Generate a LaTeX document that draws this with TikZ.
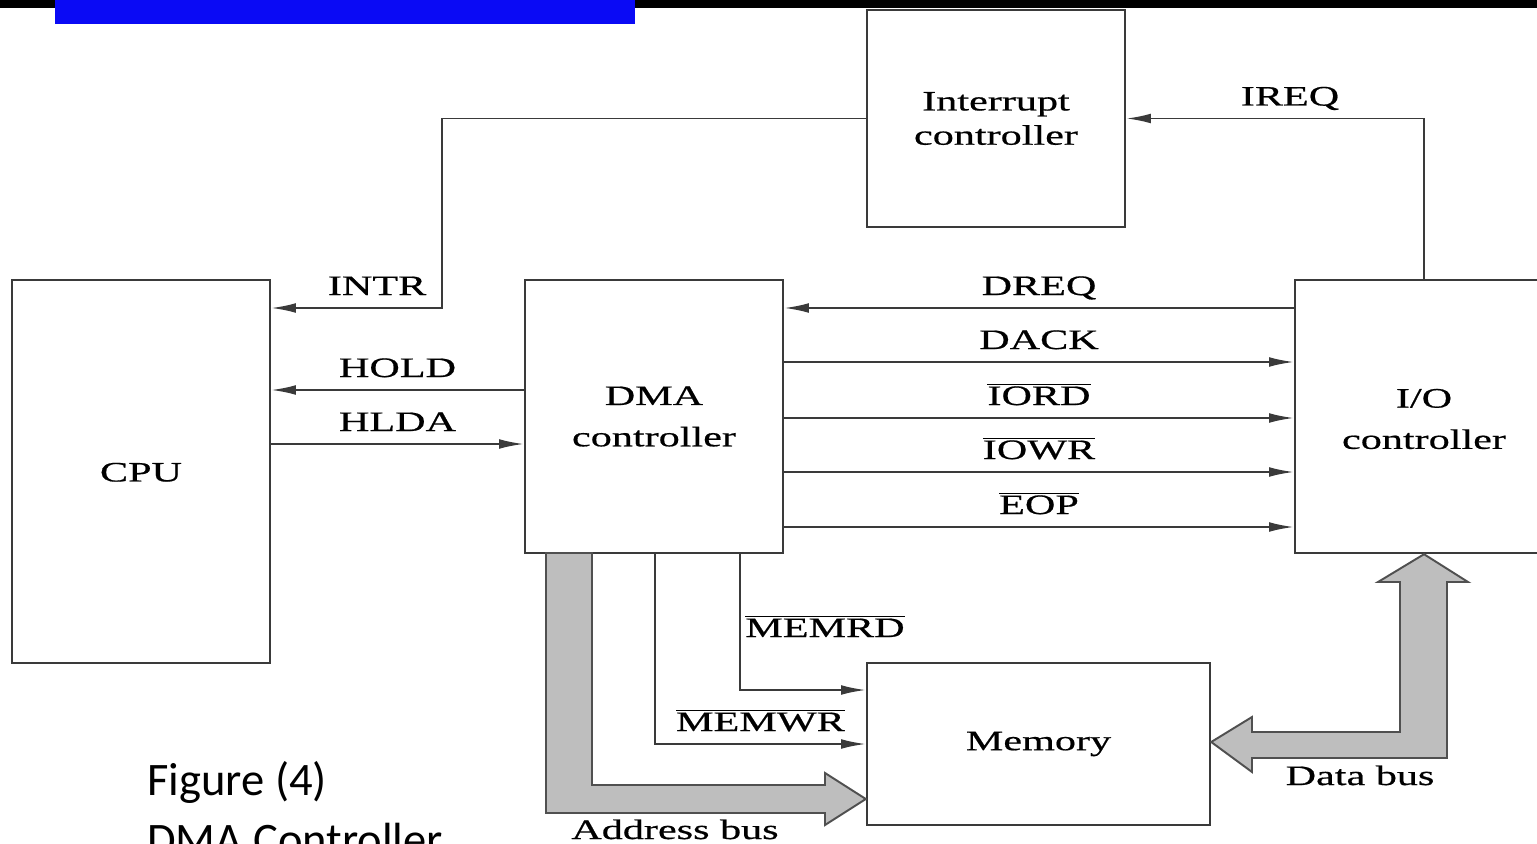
\documentclass[tikz,border=0pt]{standalone}
\usepackage{fontspec}
\usetikzlibrary{arrows.meta,calc}
\newfontfamily\figfont[FakeStretch=1.5,FakeBold=0.6]{Liberation Serif}
\newfontfamily\capfont{Carlito}
\definecolor{Wire}{HTML}{3A3A3A}
\definecolor{BusFill}{HTML}{BEBEBE}
\definecolor{BusEdge}{HTML}{505050}
\definecolor{TitleBlue}{HTML}{0A0AF5}
\newcommand{\ovl}[1]{$\overline{\mbox{#1}}$}
\tikzset{blockbox/.style={rectangle,draw=Wire,line width=1.4pt,fill=white,minimum width=5.16cm,align=center,inner sep=0pt,font=\figfont\fontsize{16}{19.5}\selectfont},sig/.style={draw=Wire,line width=1.1pt,-{Latex[length=14pt,width=5.5pt]}},sigtag/.style={inner sep=0pt,anchor=base,yshift=0.26cm,font=\figfont\fontsize{16}{19.5}\selectfont},siglabel/.style={inner sep=0pt,anchor=base,font=\figfont\fontsize{16}{19.5}\selectfont},bus/.style={draw=BusEdge,line width=1.1pt,fill=BusFill,line join=miter},captext/.style={inner sep=0pt,anchor=base west,font=\capfont\fontsize{26.5}{34}\selectfont}}

\begin{document}
\begin{tikzpicture}[x=0.02cm,y=-0.02cm]
\clip (0,0) rectangle (1537,844);
\fill[white] (0,0) rectangle (1537,844);
\fill[black] (0,0) rectangle (1537,8);
\fill[TitleBlue] (55,0) rectangle (635,24);
\node[blockbox,minimum height=4.34cm] (IC) at (996,118.5) {Interrupt\\controller};
\node[blockbox,minimum height=7.66cm] (CPU) at (141,471.5) {\\[-8pt]CPU};
\node[blockbox,minimum height=5.46cm] (DMA) at (654,416.5) {DMA\\[4pt]controller};
\node[blockbox,minimum height=5.46cm] (IO) at (1424,416.5) {\\[-6pt]I/O\\[4pt]controller};
\node[blockbox,minimum width=6.86cm,minimum height=3.24cm] (MEM) at (1038.5,744) {Memory};
\draw[sig] (IC.west) -| (442,308) -- node[sigtag,pos=0.38] (lINTR) {INTR} (CPU.east |- 0,308);
\draw[sig] (IO.north) |- node[sigtag,pos=0.725] (lIREQ) {IREQ} (IC.east);
\draw[sig] (DMA.west |- 0,390) -- node[sigtag,midway] (lHOLD) {HOLD} (CPU.east |- 0,390);
\draw[sig] (CPU.east |- 0,444) -- node[sigtag,midway] (lHLDA) {HLDA} (DMA.west |- 0,444);
\draw[sig] (IO.west |- 0,308) -- node[sigtag,midway] (lDREQ) {DREQ} (DMA.east |- 0,308);
\foreach \yy/\sname/\stext in {362/DACK/DACK,418/IORD/\ovl{IORD},472/IOWR/\ovl{IOWR},527/EOP/\ovl{EOP}}
  \draw[sig] (DMA.east |- 0,\yy) -- node[sigtag,midway] (l\sname) {\stext} (IO.west |- 0,\yy);
\draw[sig] (DMA.south -| 740,0) |- (MEM.west |- 0,690);
\node[siglabel] (lMEMRD) at (825,637) {\ovl{MEMRD}};
\draw[sig] (DMA.south -| 655,0) |- node[sigtag,pos=0.75] (lMEMWR) {\ovl{MEMWR}} (MEM.west |- 0,744);
\draw[bus] (546,553) -- (546,813) -- (825,813) -- (825,825) -- (MEM.west |- 0,799) -- (825,773) -- (825,785) -- (592,785) -- (592,553) -- cycle;
\node[siglabel] (lADDR) at (675,839) {Address bus};
\draw[bus] (MEM.east |- 0,742) -- (1252,717) -- (1252,732) -- (1400,732) -- (1400,582) -- (1378,582) -- (IO.south) -- (1468,582) -- (1447,582) -- (1447,758) -- (1252,758) -- (1252,772) -- cycle;
\node[siglabel] (lDATA) at (1360,785) {Data bus};
\node[captext] (cap1) at (147,795) {Figure (4)};
\node[captext] (cap2) at ($(cap1.base west)+(0,60)$) {DMA Controller};
\end{tikzpicture}
\end{document}
